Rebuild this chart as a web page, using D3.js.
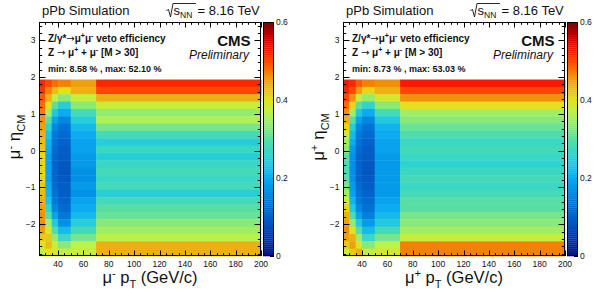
<!DOCTYPE html>
<html>
<head>
<meta charset="utf-8">
<script src="https://cdn.jsdelivr.net/npm/d3@7"></script>
<style>
body { margin: 0; background: #fff; }
svg { display: block; }
text { font-family: "Liberation Sans", Arial, sans-serif; fill: #111; }
</style>
</head>
<body>
<svg id="chart" width="599" height="290"></svg>
<script>
// bin edges
var ptEdges = [25, 30, 35, 40, 50, 70, 200];
var etaEdges = [1.935, 1.735, 1.535, 1.335, 1.135, 0.935, 0.735, 0.535, 0.335, 0.135,
                -0.065, -0.265, -0.465, -0.665, -0.865, -1.065, -1.265, -1.465, -1.665,
                -1.865, -2.065, -2.265, -2.465, -2.665, -2.865];

var xTicks = [40, 60, 80, 100, 120, 140, 160, 180, 200];
var yTicks = [-2, -1, 0, 1, 2, 3];
var zTicks = [0, 0.2, 0.4, 0.6];

// efficiency, one list per pt bin, eta from top (1.935) down
var effMinus = [
  [0.52, 0.51, 0.49, 0.48, 0.47, 0.46, 0.45, 0.44, 0.43, 0.42, 0.41, 0.41, 0.41, 0.41, 0.42, 0.43, 0.44, 0.45, 0.46, 0.46, 0.45, 0.42, 0.40, 0.37],
  [0.50, 0.47, 0.44, 0.40, 0.35, 0.30, 0.26, 0.23, 0.21, 0.20, 0.19, 0.19, 0.19, 0.19, 0.20, 0.21, 0.23, 0.26, 0.30, 0.35, 0.39, 0.42, 0.43, 0.40],
  [0.48, 0.43, 0.37, 0.30, 0.24, 0.19, 0.16, 0.14, 0.13, 0.12, 0.11, 0.11, 0.11, 0.11, 0.12, 0.13, 0.14, 0.16, 0.19, 0.24, 0.29, 0.34, 0.38, 0.39],
  [0.47, 0.40, 0.33, 0.25, 0.20, 0.16, 0.13, 0.12, 0.11, 0.10, 0.095, 0.09, 0.086, 0.09, 0.10, 0.10, 0.11, 0.12, 0.14, 0.17, 0.22, 0.27, 0.33, 0.38],
  [0.45, 0.44, 0.38, 0.33, 0.28, 0.25, 0.22, 0.20, 0.19, 0.19, 0.18, 0.18, 0.17, 0.17, 0.18, 0.17, 0.19, 0.20, 0.22, 0.25, 0.28, 0.32, 0.37, 0.38],
  [0.52, 0.50, 0.44, 0.38, 0.34, 0.36, 0.32, 0.28, 0.25, 0.27, 0.25, 0.27, 0.28, 0.27, 0.28, 0.25, 0.28, 0.30, 0.31, 0.33, 0.35, 0.37, 0.44, 0.44]
];

var effPlus = [
  [0.53, 0.52, 0.50, 0.48, 0.46, 0.44, 0.41, 0.38, 0.35, 0.33, 0.30, 0.29, 0.29, 0.30, 0.32, 0.35, 0.38, 0.41, 0.44, 0.45, 0.46, 0.45, 0.42, 0.38],
  [0.52, 0.50, 0.46, 0.41, 0.35, 0.30, 0.25, 0.22, 0.20, 0.18, 0.17, 0.17, 0.17, 0.17, 0.18, 0.19, 0.21, 0.24, 0.29, 0.34, 0.40, 0.44, 0.45, 0.42],
  [0.49, 0.45, 0.38, 0.30, 0.24, 0.19, 0.16, 0.14, 0.13, 0.12, 0.11, 0.11, 0.11, 0.11, 0.12, 0.13, 0.14, 0.16, 0.19, 0.24, 0.30, 0.35, 0.40, 0.44],
  [0.47, 0.41, 0.34, 0.26, 0.20, 0.16, 0.13, 0.12, 0.11, 0.10, 0.095, 0.09, 0.0873, 0.09, 0.10, 0.11, 0.12, 0.13, 0.15, 0.18, 0.22, 0.27, 0.33, 0.38],
  [0.46, 0.44, 0.39, 0.33, 0.28, 0.24, 0.21, 0.20, 0.19, 0.19, 0.18, 0.18, 0.18, 0.18, 0.18, 0.18, 0.19, 0.20, 0.22, 0.24, 0.28, 0.32, 0.37, 0.39],
  [0.53, 0.50, 0.46, 0.40, 0.35, 0.33, 0.31, 0.29, 0.27, 0.28, 0.27, 0.26, 0.27, 0.28, 0.27, 0.28, 0.30, 0.30, 0.32, 0.33, 0.35, 0.38, 0.47, 0.47]
];

var panelInfo = [
  { sign: "-", eff: effMinus, min: "8.58", max: "52.10", dx: 0 },
  { sign: "+", eff: effPlus,  min: "8.73", max: "53.03", dx: 304 }
];

// palette
var palStops = [0, 0.04, 0.08, 0.12, 0.16, 0.20, 0.23, 0.26, 0.30, 0.33, 0.37, 0.40, 0.44, 0.47, 0.50, 0.53, 0.56, 0.60];
var palColors = ["#000a78", "#0a34a6", "#0552be", "#006ad0", "#0088e2", "#0cabf2", "#1ac2e8", "#2fd4cf", "#58dea4",
                 "#88e97a", "#baf24a", "#e0e21e", "#ecb012", "#f48006", "#fc4800", "#fa1800", "#d00000", "#7c0000"];

var W = { x0: 39, x1: 261, y0: 22, y1: 256 };
var bar = { x0: 263, x1: 274 };

var color = d3.scaleLinear().domain(palStops).range(palColors).clamp(true);
var x = d3.scaleLinear().domain([25, 200]).range([W.x0, W.x1]);
var y = d3.scaleLinear().domain([-2.865, 3.5]).range([W.y1, W.y0]);
var z = d3.scaleLinear().domain([0, 0.6]).range([W.y1, W.y0]);

var svg = d3.select("#chart");

panelInfo.forEach(function (p) {
    var g = svg.append("g").attr("transform", "translate(" + p.dx + ",0)");

    // cells
    var cells = [];
    p.eff.forEach(function (col, i) {
        col.forEach(function (v, j) {
            cells.push({ lo: ptEdges[i], hi: ptEdges[i + 1], top: etaEdges[j], bot: etaEdges[j + 1], v: v });
        });
    });
    g.selectAll("rect.cell").data(cells).enter().append("rect")
      .attr("class", "cell")
      .attr("x", function (d) { return x(d.lo); })
      .attr("y", function (d) { return y(d.top); })
      .attr("width", function (d) { return x(d.hi) - x(d.lo) + 0.4; })
      .attr("height", function (d) { return y(d.bot) - y(d.top) + 0.4; })
      .attr("fill", function (d) { return color(d.v); });

    // ticks on all four sides, pointing in
    var ax = g.append("g").attr("stroke", "#000").attr("stroke-width", 1);
    var xMinor = d3.range(25, 201, 5);
    xMinor.forEach(function (t) {
        var len = xTicks.indexOf(t) >= 0 ? 5.5 : 2.8;
        var px = Math.round(x(t)) + 0.5;
        ax.append("line").attr("x1", px).attr("x2", px).attr("y1", W.y1).attr("y2", W.y1 - len);
        ax.append("line").attr("x1", px).attr("x2", px).attr("y1", W.y0).attr("y2", W.y0 + len);
    });
    var yMinor = d3.range(-28, 35, 2).map(function (k) { return k / 10; });
    yMinor.forEach(function (t) {
        var len = yTicks.indexOf(t) >= 0 ? 6.5 : 3.2;
        var py = Math.round(y(t)) + 0.5;
        ax.append("line").attr("x1", W.x0).attr("x2", W.x0 + len).attr("y1", py).attr("y2", py);
        ax.append("line").attr("x1", W.x1).attr("x2", W.x1 - len).attr("y1", py).attr("y2", py);
    });

    g.append("rect")
      .attr("x", W.x0 + 0.5).attr("y", W.y0 + 0.5)
      .attr("width", W.x1 - W.x0 - 1).attr("height", W.y1 - W.y0 - 1)
      .attr("fill", "none").attr("stroke", "#000").attr("stroke-width", 1);

    // tick labels
    g.selectAll("text.xl").data(xTicks).enter().append("text")
      .attr("class", "xl")
      .attr("x", function (d) { return x(d); })
      .attr("y", 266.5)
      .attr("text-anchor", "middle")
      .attr("font-size", 8.5)
      .attr("fill", "#222")
      .text(function (d) { return d; });
    g.selectAll("text.yl").data(yTicks).enter().append("text")
      .attr("class", "yl")
      .attr("x", 35.5)
      .attr("y", function (d) { return y(d) + 3; })
      .attr("text-anchor", "end")
      .attr("font-size", 8.5)
      .attr("fill", "#222")
      .text(function (d) { return d === -2 || d === -1 ? "\u2212" + Math.abs(d) : d; });

    // colour bar
    var steps = d3.range(0, 0.6, 0.005);
    g.selectAll("rect.bar").data(steps).enter().append("rect")
      .attr("class", "bar")
      .attr("x", bar.x0)
      .attr("width", bar.x1 - bar.x0)
      .attr("y", function (d) { return z(d + 0.005); })
      .attr("height", function (d) { return z(d) - z(d + 0.005) + 0.3; })
      .attr("fill", function (d) { return color(d + 0.0025); });
    g.append("rect")
      .attr("x", bar.x0 + 0.5).attr("y", W.y0 + 0.5)
      .attr("width", bar.x1 - bar.x0 - 1).attr("height", W.y1 - W.y0 - 1)
      .attr("fill", "none").attr("stroke", "#000").attr("stroke-width", 1);
    zTicks.forEach(function (t) {
        var py = Math.round(z(t)) + 0.5;
        ax.append("line").attr("x1", bar.x1).attr("x2", bar.x1 - 4).attr("y1", py).attr("y2", py);
    });
    g.selectAll("text.zl").data(zTicks).enter().append("text")
      .attr("class", "zl")
      .attr("x", 276)
      .attr("y", function (d) { return z(d) + 3; })
      .attr("font-size", 8.5)
      .attr("fill", "#333")
      .text(function (d) { return d; });

    // axis titles
    var xt = g.append("text").attr("x", 150).attr("y", 282.5).attr("text-anchor", "middle").attr("font-size", 16.5);
    xt.append("tspan").text("\u03bc");
    xt.append("tspan").attr("dy", -6).attr("font-size", 11).text(p.sign);
    xt.append("tspan").attr("dy", 6).text(" p");
    xt.append("tspan").attr("dy", 5).attr("font-size", 11).text("T");
    xt.append("tspan").attr("dy", -5).text(" (GeV/c)");

    var yt = g.append("text").attr("transform", "translate(20,137) rotate(-90)")
      .attr("text-anchor", "middle").attr("font-size", 17);
    yt.append("tspan").text("\u03bc");
    yt.append("tspan").attr("dy", -6).attr("font-size", 11).text(p.sign);
    yt.append("tspan").attr("dy", 6).text(" \u03b7");
    yt.append("tspan").attr("dy", 5).attr("font-size", 11).text("CM");

    // header
    g.append("text").attr("x", 42).attr("y", 15).attr("font-size", 13).text("pPb Simulation");
    g.append("path")
      .attr("d", "M166.5,10.5 L168.5,9.5 L170.5,17 L173,3.5 L196,3.5")
      .attr("fill", "none").attr("stroke", "#111").attr("stroke-width", 0.9);
    g.append("text").attr("x", 173.5).attr("y", 15).attr("font-size", 13).text("s");
    g.append("text").attr("x", 180).attr("y", 18).attr("font-size", 8.5).text("NN");
    g.append("text").attr("x", 197.5).attr("y", 15).attr("font-size", 13).text("= 8.16 TeV");

    // legend text
    var l1 = g.append("text").attr("x", 48).attr("y", 41.5).attr("font-size", 10).attr("font-weight", "bold");
    l1.append("tspan").text("Z/\u03b3*");
    l1.append("tspan").attr("font-family", "DejaVu Sans").attr("font-weight", "normal").text("\u2192");
    l1.append("tspan").text("\u03bc");
    l1.append("tspan").attr("dy", -4).attr("font-size", 7).text("+");
    l1.append("tspan").attr("dy", 4).text("\u03bc");
    l1.append("tspan").attr("dy", -4).attr("font-size", 7).text("-");
    l1.append("tspan").attr("dy", 4).text(" veto efficiency");

    var l2 = g.append("text").attr("x", 48).attr("y", 55.5).attr("font-size", 10).attr("font-weight", "bold");
    l2.append("tspan").text("Z ");
    l2.append("tspan").attr("font-family", "DejaVu Sans").attr("font-weight", "normal").text("\u2192");
    l2.append("tspan").text(" \u03bc");
    l2.append("tspan").attr("dy", -4).attr("font-size", 7).text("+");
    l2.append("tspan").attr("dy", 4).text(" + \u03bc");
    l2.append("tspan").attr("dy", -4).attr("font-size", 7).text("-");
    l2.append("tspan").attr("dy", 4).text(" [M > 30]");

    g.append("text").attr("x", 48).attr("y", 72).attr("font-size", 9).attr("font-weight", "bold")
      .text("min: " + p.min + " % , max: " + p.max + " %");

    g.append("text").attr("x", 250.5).attr("y", 45.5).attr("text-anchor", "end")
      .attr("font-size", 15).attr("font-weight", "bold").text("CMS");
    g.append("text").attr("x", 249).attr("y", 59).attr("text-anchor", "end")
      .attr("font-size", 12).attr("font-style", "italic").text("Preliminary");
});
</script>
</body>
</html>
